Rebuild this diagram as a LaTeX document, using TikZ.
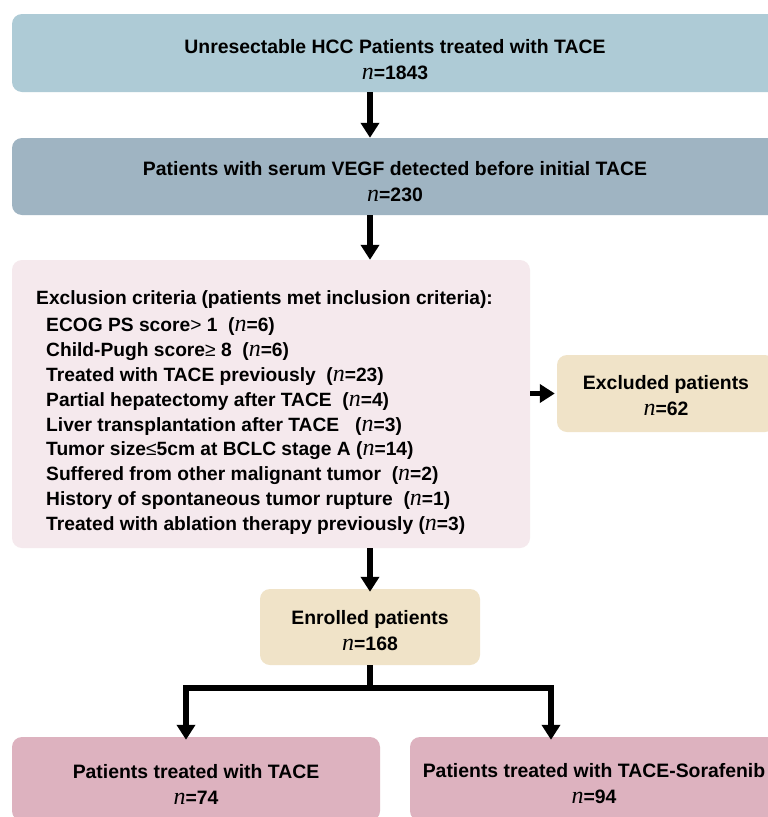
\documentclass[tikz,border=0pt]{standalone}
\usepackage{fontspec}
\usetikzlibrary{arrows.meta}
\setmainfont{Liberation Sans}
\newfontfamily\serifnf{Liberation Serif}
\newcommand\nital{{\serifnf\mdseries\itshape\fontsize{24}{24}\selectfont n}}
\definecolor{cbluea}{HTML}{AECBD6}
\definecolor{cblueb}{HTML}{9FB4C2}
\definecolor{cpinkl}{HTML}{F5E9ED}
\definecolor{cbeige}{HTML}{F0E3C8}
\definecolor{cpinkd}{HTML}{DDB2BF}
\tikzset{
  box/.style={rounded corners=10pt, draw=none, inner sep=0pt},
  ttl/.style={font=\bfseries\fontsize{19.4}{26}\selectfont, align=center, inner sep=0pt},
  crit/.style={font=\bfseries\fontsize{19.2}{24.8}\selectfont, align=left, inner sep=0pt, anchor=north west},
  conn/.style={line width=5.5pt, black},
  arr/.style={conn, -{Triangle[width=18pt,length=15pt]}},
}
\begin{document}
\begin{tikzpicture}[x=1pt,y=-1pt]
\clip (0,0) rectangle (768,817);
\fill[white] (0,0) rectangle (768,817);
% boxes
\node[box, fill=cbluea, minimum width=766pt, minimum height=78pt] (b1) at (395,53) {};
\node[box, fill=cblueb, minimum width=766pt, minimum height=77pt] (b2) at (395,176.5) {};
\node[box, fill=cpinkl, minimum width=518pt, minimum height=288pt] (b3) at (271,404) {};
\node[box, fill=cbeige, minimum width=218pt, minimum height=77pt] (ex) at (666,393.5) {};
\node[box, fill=cbeige, minimum width=220pt, minimum height=76pt] (en) at (370,627) {};
\node[box, fill=cpinkd, minimum width=368pt, minimum height=84pt] (bl) at (196,779) {};
\node[box, fill=cpinkd, minimum width=368pt, minimum height=84pt] (br) at (594,779) {};
% texts
\node[ttl] (t1) at (395,59.5) {Unresectable HCC Patients treated with TACE\\\nital=1843};
\node[ttl] (t2) at (395,182) {Patients with serum VEGF detected before initial TACE\\\nital=230};
\node[ttl] (t4) at (666,396) {Excluded patients\\\nital=62};
\node[ttl] (t5) at (370,631) {Enrolled patients\\\nital=168};
\node[ttl] (t6) at (196,784) {Patients treated with TACE\\\nital=74};
\node[ttl] (t7) at (594,784) {Patients treated with TACE-Sorafenib\\\nital=94};
\node[crit] (t3) at (36,290.5) {Exclusion criteria (patients met inclusion criteria):\\[2.5pt]
\hspace*{10pt}ECOG PS score{\mdseries>} 1\ \ (\nital=6)\\
\hspace*{10pt}Child-Pugh score{\mdseries≥} 8\ \ (\nital=6)\\
\hspace*{10pt}Treated with TACE previously\ \ (\nital=23)\\
\hspace*{10pt}Partial hepatectomy after TACE\ \ (\nital=4)\\
\hspace*{10pt}Liver transplantation after TACE\ \ \ (\nital=3)\\
\hspace*{10pt}Tumor size{\mdseries≤}5cm at BCLC stage A (\nital=14)\\
\hspace*{10pt}Suffered from other malignant tumor\ \ (\nital=2)\\
\hspace*{10pt}History of spontaneous tumor rupture\ \ (\nital=1)\\
\hspace*{10pt}Treated with ablation therapy previously (\nital=3)};
% connectors
\coordinate (j) at (370,688);
\coordinate (jl) at (186,688);
\coordinate (jr) at (551,688);
\draw[arr] (b1.south -| en.center) -- (b2.north -| en.center);
\draw[arr] (b2.south -| en.center) -- (b3.north -| en.center);
\draw[arr] (b3.south -| en.center) -- ([yshift=-3pt]en.north);
\draw[arr] (b3.east |- ex.west) -- ([xshift=-2pt]ex.west);
\draw[conn] (en.south) -- (j);
\draw[arr] ([xshift=2.75pt]j) -- (jl) -- ([yshift=-3pt]jl |- bl.north);
\draw[arr] ([xshift=-2.75pt]j) -- (jr) -- ([yshift=-3pt]jr |- br.north);
\end{tikzpicture}
\end{document}
